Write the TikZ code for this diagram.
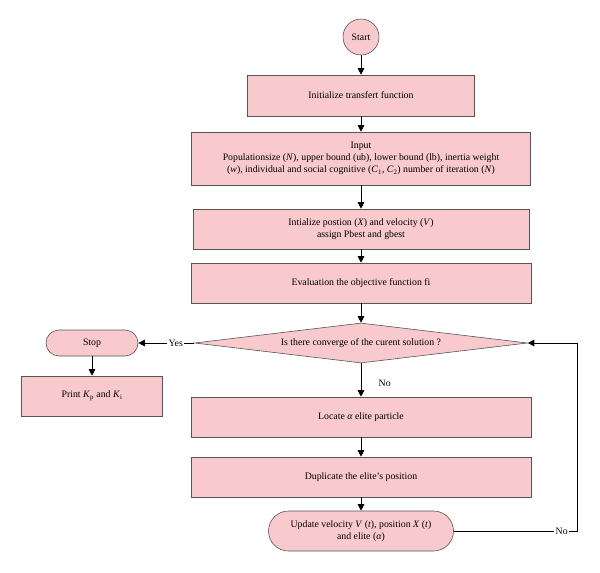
\documentclass[tikz,border=0pt]{standalone}
\usepackage{fontspec}
\setmainfont{Liberation Serif}
\usetikzlibrary{arrows.meta,shapes,positioning}
\definecolor{boxpink}{RGB}{248,202,205}
\definecolor{boxline}{RGB}{85,85,85}

\begin{document}
\begin{tikzpicture}[>={Triangle[width=6.5pt,length=6.5pt]},
	Edge/.style={->,black,line width=0.7pt},
	FlowBox/.style={rectangle,fill=boxpink,draw=boxline,line width=0.6pt,font=\fontsize{9.8}{12}\selectfont,align=center,minimum width=340pt,minimum height=40pt,inner sep=2pt},
	FlowEnd/.style={FlowBox,rounded corners=20pt},
	FlowStart/.style={FlowBox,circle,minimum width=36pt,minimum size=36pt},
	FlowTest/.style={FlowBox,diamond,aspect=8,minimum width=333pt,minimum height=40pt,inner sep=0pt},
	EdgeLabel/.style={fill=white,font=\fontsize{9.8}{11}\selectfont,inner sep=1.5pt},
]
	\useasboundingbox (0,0) rectangle (600pt,-573pt);
	\node[FlowStart] (S) at (361pt,-37pt){Start};
	\node[FlowBox,minimum width=227pt,minimum height=41pt] (I)[below of=S,node distance=58.5pt]{Initialize transfert function};
	\node[FlowBox,minimum width=339pt,minimum height=53pt] (In)[below of=I,node distance=63pt]{Input\\
		Populationsize (\textit{N}), upper bound (ub), lower bound (lb), inertia weight\\
		(\textit{w}), individual and social cognitive (\textit{C}\textsubscript{1}, \textit{C}\textsubscript{2}) number of iteration (\textit{N})};
	\node[FlowBox,minimum width=336pt] (P)[below of=In,node distance=70.5pt]{Intialize postion (\textit{X}) and velocity (\textit{V})\\assign Pbest and gbest};
	\node[FlowBox] (E)[below of=P,node distance=54pt]{Evaluation the objective function fi};
	\node[FlowTest] (D)[below of=E,node distance=60pt]{Is there converge of the curent solution ?};
	\node[FlowBox] (L)[below of=D,node distance=74pt]{Locate \textit{α} elite particle};
	\node[FlowBox] (Du)[below of=L,node distance=60pt]{Duplicate the elite’s position};
	\node[FlowEnd,minimum width=185pt] (U)[below of=Du,node distance=54pt]{Update velocity \textit{V} (\textit{t}), position \textit{X} (\textit{t})\\and elite (\textit{α})};
	\node[FlowBox,rounded corners=13pt,minimum width=92pt,minimum height=26pt] (St)[left of=D,node distance=269pt]{Stop};
	\node[FlowBox,minimum width=141pt] (Pr)[below of=St,node distance=53pt]{Print \textit{K}\textsubscript{p} and \textit{K}\textsubscript{i}};
	\coordinate[right=50pt of D.east] (loop);
	
	\path[Edge]
	(S) edge (I)
	(I) edge (In)
	(In) edge (P)
	(P) edge (E)
	(E) edge (D)
	(D) edge node[right,xshift=14pt,yshift=-3pt,font=\fontsize{9.8}{11}\selectfont]{No}(L)
	(L) edge (Du)
	(Du) edge (U)
	(D.west) edge node[EdgeLabel,pos=0.33]{Yes}(St)
	(St) edge (Pr)
	;
	\draw[Edge] (U.east) -| node[EdgeLabel,pos=0.435]{No} (loop) -- (D.east);
\end{tikzpicture}
\end{document}
